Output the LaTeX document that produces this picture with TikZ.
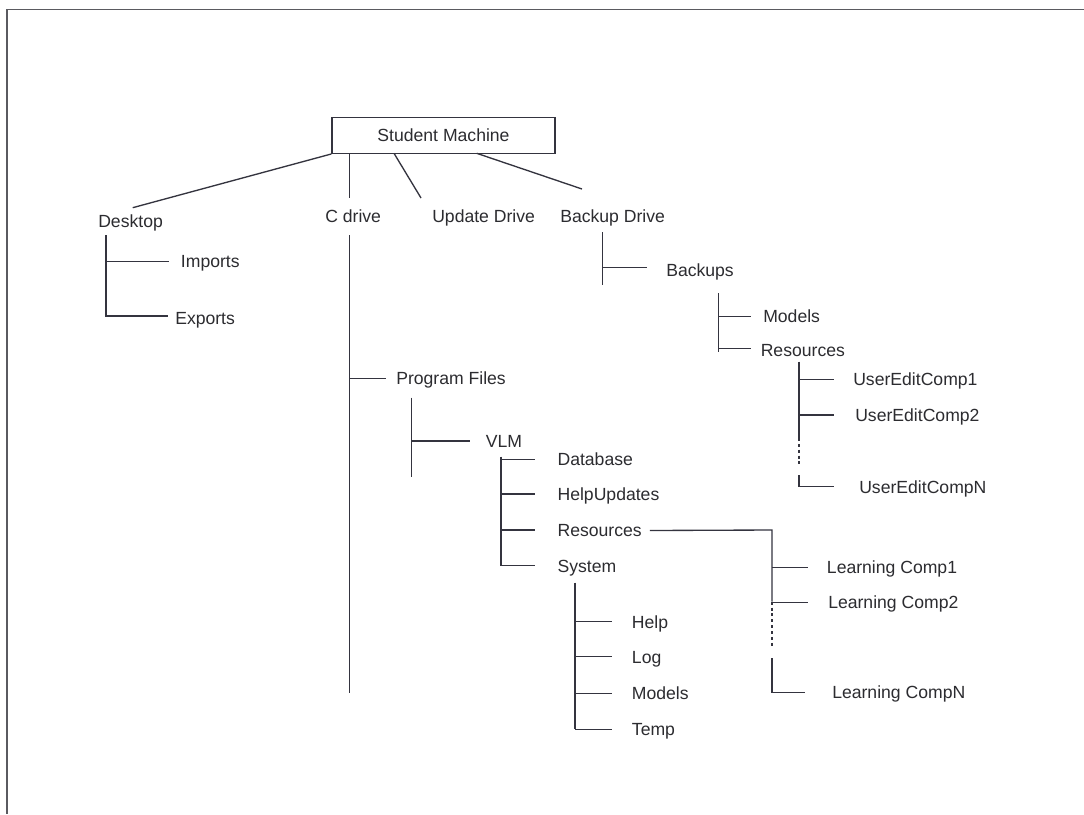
\documentclass[tikz,border=0pt]{standalone}
\usepackage{fontspec}
\setmainfont{Liberation Sans}
\definecolor{ink}{HTML}{34343F}
\definecolor{txt}{HTML}{2C2C30}
\definecolor{frame}{HTML}{5A5A60}
\begin{document}
\begin{tikzpicture}[x=0.75pt,y=-0.75pt,
  every node/.style={font=\fontsize{13.2}{15.8}\selectfont, text=txt},
  lbl/.style={anchor=west, inner sep=0pt, text height=9.4pt, text depth=0pt},
  wire/.style={draw=ink, line width=1pt},
  dots/.style={draw=ink, line width=0.8pt, dash pattern=on 2.2pt off 2.2pt}]
\useasboundingbox (0,0) rectangle (1084,814);
\fill[white] (0,0) rectangle (1084,814);

% page frame (top and left edges)
\draw[draw=frame, line width=1.1pt] (1084,9.5) -- (7,9.5) -- (7,814);

% root
\node[draw=ink, line width=1pt, minimum width=167.25pt, minimum height=27pt, inner sep=0pt] (sm) at (443.5,135.3) {Student Machine};

% first level labels
\node[lbl] (desk)   at (98,221)  {Desktop};
\node[lbl] (cdrv)   at (325,216) {C drive};
\node[lbl] (upd)    at (432,216) {Update Drive};
\node[lbl] (bkd)    at (560,216) {Backup Drive};

% connectors from the root
\coordinate (sm-c)  at (349.3,153.3);
\coordinate (sm-u)  at (394,153.3);
\coordinate (sm-b)  at (476.7,153.3);
\coordinate (desk-in) at (132.7,207.7);
\coordinate (cdrv-in) at (349.3,198);
\coordinate (upd-in)  at (421,198);
\coordinate (bkd-in)  at (582,189);
\draw[wire] (sm.south west) -- (desk-in);
\draw[wire] (sm-c) -- (cdrv-in);
\draw[wire] (sm-u) -- (upd-in);
\draw[wire] (sm-b) -- (bkd-in);

% Desktop
\node[lbl] (imp) at (180.7,261) {Imports};
\node[lbl] (exp) at (175,318)   {Exports};
\coordinate (dk-top) at (106,235);
\coordinate (dk-i)   at (106,261.7);
\coordinate (dk-e)   at (106,316);
\draw[wire] (dk-top) -- (dk-e) -- (168,316);
\draw[wire] (dk-i) -- (169.3,261.7);

% C drive
\node[lbl] (pf)  at (396,378)   {Program Files};
\node[lbl] (vlm) at (485.7,441) {VLM};
\coordinate (c-top) at (349.3,235);
\coordinate (c-bot) at (349.3,693);
\coordinate (c-pf)  at (349.3,378.3);
\draw[wire] (c-top) -- (c-bot);
\draw[wire] (c-pf) -- (385.7,378.3);
\coordinate (pf-top) at (411.7,397.7);
\coordinate (pf-bot) at (411.7,476.7);
\coordinate (pf-v)   at (411.7,441);
\draw[wire] (pf-top) -- (pf-bot);
\draw[wire] (pf-v) -- (470,441);

% VLM
\node[lbl] (db)  at (557.3,459.3) {Database};
\node[lbl] (hu)  at (557.3,494.5) {HelpUpdates};
\node[lbl] (res) at (557.3,530.5) {Resources};
\node[lbl] (sys) at (557.3,566)   {System};
\coordinate (v-top) at (501,456.7);
\coordinate (v-bot) at (501,565.5);
\draw[wire] (v-top) -- (v-bot);
\foreach \yy in {459.3,494,530,565.5} \draw[wire] (501,\yy) -- (535,\yy);

% VLM / System
\node[lbl] (hlp)  at (631.7,622)   {Help};
\node[lbl] (log)  at (631.7,657)   {Log};
\node[lbl] (mdl)  at (631.7,693.3) {Models};
\node[lbl] (tmp)  at (631.7,729.3) {Temp};
\coordinate (s-top) at (575,582.7);
\coordinate (s-bot) at (575,729.3);
\draw[wire] (s-top) -- (s-bot);
\foreach \yy in {621.7,656.7,693.3,729.3} \draw[wire] (575,\yy) -- (611.7,\yy);

% VLM / Resources
\node[lbl] (lc1) at (826.7,567.3) {Learning Comp1};
\node[lbl] (lc2) at (828,602.3)   {Learning Comp2};
\node[lbl] (lcn) at (832,692.7)   {Learning CompN};
\coordinate (r-corner) at (772,530);
\draw[wire] (res.east) ++(8,0) coordinate (r-out) -- (r-corner) -- (772,601.7);
\draw[dots] (772,601.7) -- (772,646.7);
\draw[wire] (772,658) -- (772,692.7) -- (805,692.7);
\draw[wire] (772,567.3) -- (808,567.3);
\draw[wire] (772,602.3) -- (808,602.3);

% Backup Drive
\node[lbl] (bks) at (666,270) {Backups};
\coordinate (b-top) at (602.7,232);
\coordinate (b-bot) at (602.7,284.5);
\draw[wire] (b-top) -- (b-bot);
\draw[wire] (602.7,267.7) -- (646.7,267.7);

\node[lbl] (bmdl) at (763,316.5) {Models};
\node[lbl] (bres) at (760.5,350.5) {Resources};
\draw[wire] (718.3,293) -- (718.3,352);
\draw[wire] (718.3,316.7) -- (750.7,316.7);
\draw[wire] (718.3,348.3) -- (750.7,348.3);

\node[lbl] (ue1) at (853,379.3) {UserEditComp1};
\node[lbl] (ue2) at (855,415)   {UserEditComp2};
\node[lbl] (uen) at (859,487)   {UserEditCompN};
\draw[wire] (799,361.7) -- (799,438);
\draw[dots] (799,438) -- (799,465);
\draw[wire] (799,475) -- (799,486.7) -- (834,486.7);
\draw[wire] (799,379.3) -- (834,379.3);
\draw[wire] (799,415) -- (834,415);
\end{tikzpicture}
\end{document}
